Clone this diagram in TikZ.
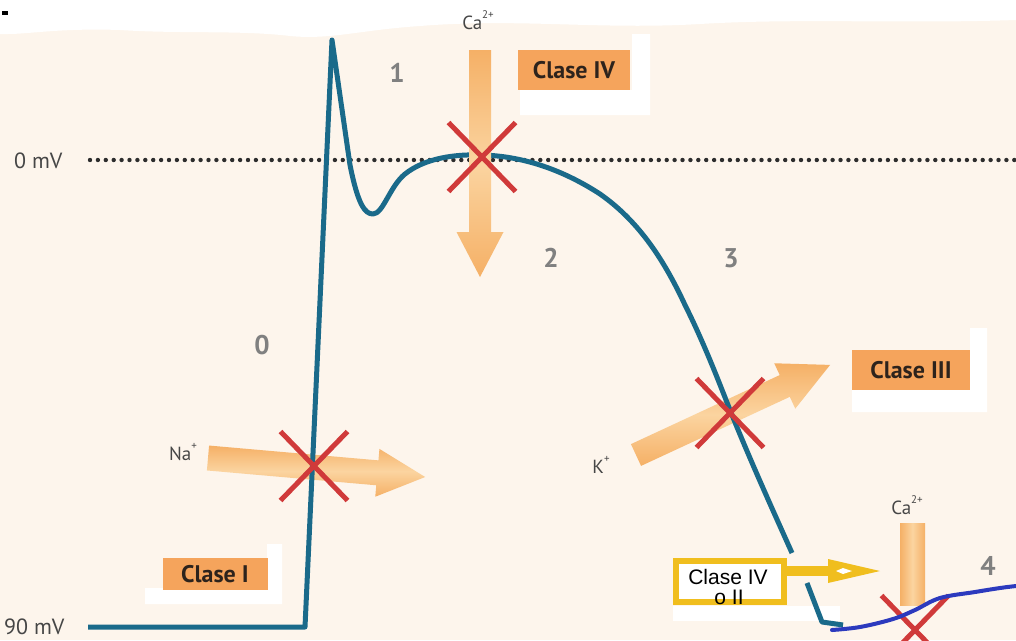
\documentclass[tikz,border=0pt]{standalone}
\usepackage{fontspec}
\setmainfont{PT Sans}
\newfontfamily\arialf{Liberation Sans}
\usetikzlibrary{shapes.misc}
\definecolor{cream}{RGB}{253,245,236}
\definecolor{apteal}{RGB}{26,106,138}
\definecolor{apblue}{RGB}{44,58,190}
\definecolor{xred}{RGB}{208,58,58}
\definecolor{oredge}{RGB}{245,176,102}
\definecolor{orlight}{RGB}{251,212,160}
\definecolor{boxor}{RGB}{245,164,92}
\definecolor{boxtxt}{RGB}{45,35,28}
\definecolor{numgray}{RGB}{128,128,128}
\definecolor{iongray}{RGB}{70,70,70}
\definecolor{yel}{RGB}{240,190,30}
\definecolor{dotc}{RGB}{45,45,45}
\tikzset{
  xmark/.style={cross out, draw=xred, line width=5pt, minimum width=62pt, minimum height=64pt, inner sep=0pt},
  cbox/.style={fill=boxor, text=boxtxt, font=\bfseries\fontsize{24}{24}\selectfont, inner sep=0pt},
  numlab/.style={text=numgray, font=\bfseries\fontsize{27}{27}\selectfont, inner sep=0pt},
  ionlab/.style={text=iongray, font=\fontsize{19}{19}\selectfont, inner sep=0pt},
  mvlab/.style={text=iongray, font=\fontsize{22}{22}\selectfont, inner sep=0pt},
  ytext/.style={font=\arialf\fontsize{21}{21}\selectfont, inner sep=0pt, text=black},
  curve/.style={draw=apteal, line width=5pt, line join=round},
  patch/.style={fill=white},
  orshade/.style={top color=oredge, bottom color=oredge, middle color=orlight},
}
\newcommand\supr[1]{\raisebox{0.55em}{\fontsize{11}{11}\selectfont #1}}
\begin{document}
\begin{tikzpicture}[x=1pt,y=-1pt]
\useasboundingbox (0,0) rectangle (1016,640);
\fill[cream] (0,0) rectangle (1016,640);
% top white band
\fill[white] (0,0) -- (1016,0) -- (1016,20) .. controls (900,24) and (800,18) .. (700,24)
  .. controls (600,30) and (520,18) .. (420,26) .. controls (360,30) and (330,40) .. (290,36)
  .. controls (240,30) and (180,34) .. (120,30) .. controls (60,28) and (30,34) .. (8,34) -- (0,34) -- cycle;
\fill[black] (2,11) rectangle (8,15);

% white patches
\fill[patch] (520,90) -- (632,90) -- (632,34) -- (650,34) -- (650,115) -- (520,115) -- cycle;
\fill[patch] (852,390) -- (970,390) -- (970,328) -- (987,328) -- (987,412) -- (852,412) -- cycle;
\fill[patch] (145,588) -- (267,588) -- (267,544) -- (282,544) -- (282,604) -- (145,604) -- cycle;
\fill[patch] (673,606) rectangle (840,621);

% dotted zero line
\node[mvlab, anchor=west] (zero) at (14,161) {0 mV};
\coordinate (dotstart) at (90,160);
\coordinate (dotend) at (1016,160);
\draw[dotc, line width=4.4pt, line cap=round, dash pattern=on 0pt off 7.9pt] (dotstart) -- (dotend);
\node[mvlab, anchor=west] (ninety) at (4,627) {90 mV};

% orange arrows (Na, K)
\begin{scope}[shift={(208,458)}, rotate=-5]
\shade[orshade] (0,-12.5) -- (170,-12.5) -- (170,-24) -- (218,0) -- (170,24) -- (170,12.5) -- (0,12.5) -- cycle;
\end{scope}
\begin{scope}[shift={(636,455)}, rotate=24.9]
\shade[orshade] (0,-12) -- (164,-12) -- (164,-25) -- (214,0) -- (164,25) -- (164,12) -- (0,12) -- cycle;
\end{scope}
% bottom Ca bar
\shade[left color=oredge, right color=oredge, middle color=orlight] (900,523) rectangle (925,605);

% action potential curve
\coordinate (base0) at (88,627);
\draw[curve] (base0) -- (305,627) -- (332,40) -- (350,165)
  .. controls (358,205) and (365,214) .. (373,214)
  .. controls (383,214) and (390,186) .. (405,174)
  .. controls (425,158) and (455,154) .. (482,155)
  .. controls (520,156) and (560,168) .. (600,194)
  .. controls (640,222) and (665,262) .. (685,305)
  .. controls (705,345) and (720,385) .. (730,410)
  .. controls (750,460) and (775,515) .. (792,553);
\draw[curve] (807,583) -- (822,622) -- (843,625);

% top Ca arrow
\begin{scope}[shift={(480,50)}, rotate=-90]
\shade[orshade] (0,-11) -- (182,-11) -- (182,-23.5) -- (227,0) -- (182,23.5) -- (182,11) -- (0,11) -- cycle;
\end{scope}

% red crosses
\node[xmark] (xca) at (482,157) {};
\node[xmark] (xna) at (314,466) {};
\node[xmark] (xk) at (730,413) {};
\node[xmark] (xcab) at (915,630) {};

% blue phase 4 line
\draw[apblue, line width=4pt, line cap=round] plot[smooth, tension=0.6] coordinates {(832,630) (860,627) (893,619) (915,610) (940,598) (975,592) (1000,588) (1016,586)};

% class boxes
\node[cbox, minimum width=112pt, minimum height=40pt] (c4) at (574,70) {Clase IV};
\node[cbox, minimum width=118pt, minimum height=40pt] (c3) at (911,370) {Clase III};
\node[cbox, minimum width=105pt, minimum height=32pt] (c1) at (215,574) {Clase I};

% yellow box and arrow
\node[draw=yel, line width=6pt, fill=white, minimum width=108pt, minimum height=41pt, inner sep=0pt] (ybox) at (730,581.5) {};
\node[ytext, anchor=base] (yt1) at (728,584) {Clase IV};
\node[ytext, anchor=base] (yt2) at (729,604) {o II};
\coordinate (ytip) at (880,571);
\draw[yel, line width=10pt] ([yshift=10.5pt]ybox.east) -- (830,571);
\fill[yel] (828,559) -- (ytip) -- (828,583) -- cycle;
\fill[white] (836,571) -- (843,568) -- (852,571) -- (843,574) -- cycle;

% ion labels
\node[ionlab] (ca1) at (478,20) {Ca\supr{2+}};
\node[ionlab] (na) at (183,452) {Na\supr{+}};
\node[ionlab] (kk) at (601,465) {K\supr{+}};
\node[ionlab] (ca2) at (907,505) {Ca\supr{2+}};

% phase numbers
\node[numlab] (p1) at (397,73) {1};
\node[numlab] (p2) at (551,258) {2};
\node[numlab] (p3) at (731,258) {3};
\node[numlab] (p0) at (262,345) {0};
\node[numlab] (p4) at (988,566) {4};
\end{tikzpicture}
\end{document}
